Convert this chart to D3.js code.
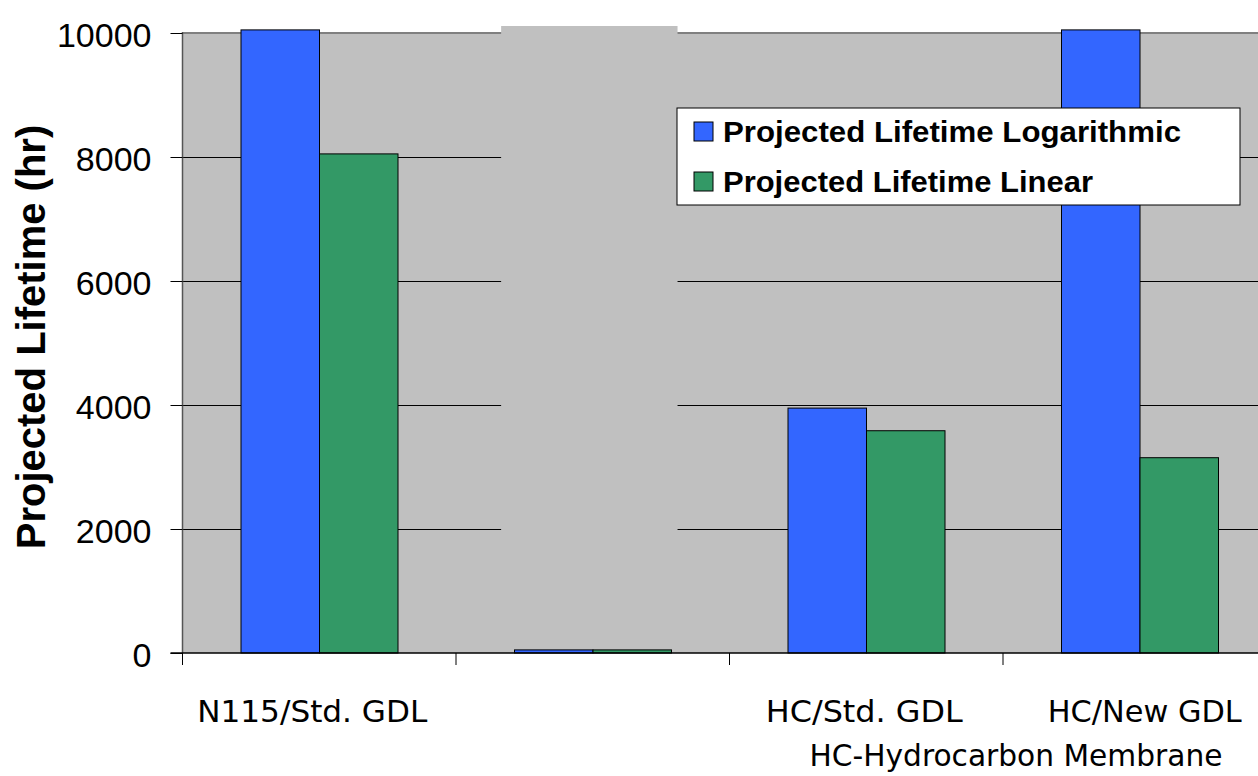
<!DOCTYPE html>
<html>
<head>
<meta charset="utf-8">
<script src="https://cdn.jsdelivr.net/npm/d3@7"></script>
<style>
  html, body { margin: 0; padding: 0; background: #ffffff; overflow: hidden; }
  svg { display: block; }
</style>
</head>
<body>
<svg id="chart" width="1258" height="776"></svg>
<script>
// Membrane / GDL combinations (second group has no printed label)
const categories = ["N115/Std. GDL", "", "HC/Std. GDL", "HC/New GDL"];
const seriesNames = ["Projected Lifetime Logarithmic", "Projected Lifetime Linear"];
// Projected lifetime in hours (logarithmic fits run past the top of the axis)
const logarithmicValues = [10050, 50, 3950, 10050];
const linearValues = [8050, 50, 3585, 3150];
const yTicks = [0, 2000, 4000, 6000, 8000, 10000];
const yTitle = "Projected Lifetime (hr)";
const xNote = "HC-Hydrocarbon Membrane";

const colors = ["#3366FF", "#339966"];
const svg = d3.select("#chart");

const plotLeft = 182.5, plotTop = 33, plotBottom = 653, bandStep = 273.5;

const x = d3.scaleBand()
  .domain(d3.range(categories.length))
  .range([plotLeft, plotLeft + bandStep * categories.length])
  .paddingInner(0).paddingOuter(0);

const xSub = d3.scaleBand()
  .domain(d3.range(seriesNames.length))
  .range([58.5, 215.5]);

const y = d3.scaleLinear().domain([0, 10000]).range([plotBottom, plotTop]);

// plot background
svg.append("rect")
  .attr("x", plotLeft).attr("y", plotTop)
  .attr("width", 1258 - plotLeft + 10).attr("height", plotBottom - plotTop)
  .attr("fill", "#C0C0C0");

// horizontal gridlines
svg.append("g").selectAll("line")
  .data(yTicks.filter(d => d > 0 && d < 10000))
  .join("line")
  .attr("x1", plotLeft).attr("x2", 1258)
  .attr("y1", d => Math.round(y(d)) + 0.5).attr("y2", d => Math.round(y(d)) + 0.5)
  .attr("stroke", "#000").attr("stroke-width", 1);

// top frame edge
svg.append("line")
  .attr("x1", plotLeft).attr("x2", 1258)
  .attr("y1", plotTop).attr("y2", plotTop)
  .attr("stroke", "#808080").attr("stroke-width", 2);

// plain panel over the second group
const b1 = x(1);
svg.append("rect")
  .attr("x", b1 + 0.165 * bandStep)
  .attr("y", y(10000) - 7)
  .attr("width", 0.645 * bandStep)
  .attr("height", y(50) - y(10000) + 7)
  .attr("fill", "#C0C0C0");

// bars
const groups = svg.append("g").selectAll("g")
  .data(categories.map((c, i) => ({ i, vals: [logarithmicValues[i], linearValues[i]] })))
  .join("g")
  .attr("transform", d => `translate(${x(d.i)},0)`);

groups.selectAll("rect")
  .data(d => d.vals.map((v, s) => ({ v, s })))
  .join("rect")
  .attr("x", d => xSub(d.s))
  .attr("y", d => y(d.v))
  .attr("width", xSub.bandwidth())
  .attr("height", d => y(0) - y(d.v))
  .attr("fill", d => colors[d.s])
  .attr("stroke", "#000").attr("stroke-width", 1);

// left frame edge
svg.append("line")
  .attr("x1", plotLeft).attr("x2", plotLeft)
  .attr("y1", plotTop - 1).attr("y2", plotBottom)
  .attr("stroke", "#555").attr("stroke-width", 1.5);

// y axis
const yAxis = d3.axisLeft(y).tickValues(yTicks).tickSize(12).tickPadding(19)
  .tickFormat(d3.format("d"));
const yg = svg.append("g").attr("transform", `translate(${plotLeft},0)`).call(yAxis);
yg.select(".domain").remove();
yg.selectAll(".tick line").attr("stroke", "#000");
yg.selectAll(".tick text")
  .attr("font-family", "'Liberation Sans', Arial, sans-serif")
  .attr("font-size", 34).attr("fill", "#000")
  .attr("dy", "0.4em");

// x axis
const xAxis = d3.axisBottom(x).tickSize(0).tickFormat("");
const xg = svg.append("g").attr("transform", `translate(0,${plotBottom})`).call(xAxis);
xg.select(".domain").attr("stroke", "#000").attr("stroke-width", 1.5)
  .attr("d", `M${plotLeft - 12},0H1258`);
xg.selectAll(".tick").remove();
xg.selectAll("line.sep")
  .data(d3.range(categories.length))
  .join("line").attr("class", "sep")
  .attr("x1", i => x(i)).attr("x2", i => x(i))
  .attr("y1", 0).attr("y2", 12)
  .attr("stroke", "#000").attr("stroke-width", 1);

// category labels
const labelWidths = [230, 0, 197, 194];
const labelShift = [-7, 0, -2, 5];
svg.append("g").selectAll("text")
  .data(categories.map((c, i) => ({ c, i })).filter(d => d.c))
  .join("text")
  .attr("x", d => x(d.i) + x.bandwidth() / 2 + labelShift[d.i])
  .attr("y", 722)
  .attr("text-anchor", "middle")
  .attr("font-family", "'Comic Sans MS', 'DejaVu Sans', sans-serif")
  .attr("font-size", 31)
  .attr("textLength", d => labelWidths[d.i])
  .attr("lengthAdjust", "spacingAndGlyphs")
  .attr("fill", "#000")
  .text(d => d.c);

svg.append("text")
  .attr("x", 1016).attr("y", 766)
  .attr("text-anchor", "middle")
  .attr("font-family", "'Comic Sans MS', 'DejaVu Sans', sans-serif")
  .attr("font-size", 31)
  .attr("textLength", 413).attr("lengthAdjust", "spacingAndGlyphs")
  .attr("fill", "#000")
  .text(xNote);

// y title
svg.append("text")
  .attr("transform", `translate(45,337) rotate(-90)`)
  .attr("text-anchor", "middle")
  .attr("font-family", "'Liberation Sans', Arial, sans-serif")
  .attr("font-weight", "bold")
  .attr("font-size", 40)
  .attr("fill", "#000")
  .text(yTitle);

// legend
const legend = svg.append("g").attr("transform", "translate(677,108)");
legend.append("rect")
  .attr("width", 563).attr("height", 97)
  .attr("fill", "#fff").attr("stroke", "#000").attr("stroke-width", 1);
const legendTextWidths = [458, 370];
const items = legend.selectAll("g.item")
  .data(seriesNames.map((n, i) => ({ n, i })))
  .join("g").attr("class", "item")
  .attr("transform", d => `translate(17,${14 + d.i * 50})`);
items.append("rect")
  .attr("width", 19).attr("height", 19)
  .attr("fill", d => colors[d.i]).attr("stroke", "#000").attr("stroke-width", 1);
items.append("text")
  .attr("x", 29).attr("y", 20)
  .attr("font-family", "'Liberation Sans', Arial, sans-serif")
  .attr("font-weight", "bold")
  .attr("font-size", 29)
  .attr("textLength", d => legendTextWidths[d.i])
  .attr("lengthAdjust", "spacingAndGlyphs")
  .attr("fill", "#000")
  .text(d => d.n);
</script>
</body>
</html>
